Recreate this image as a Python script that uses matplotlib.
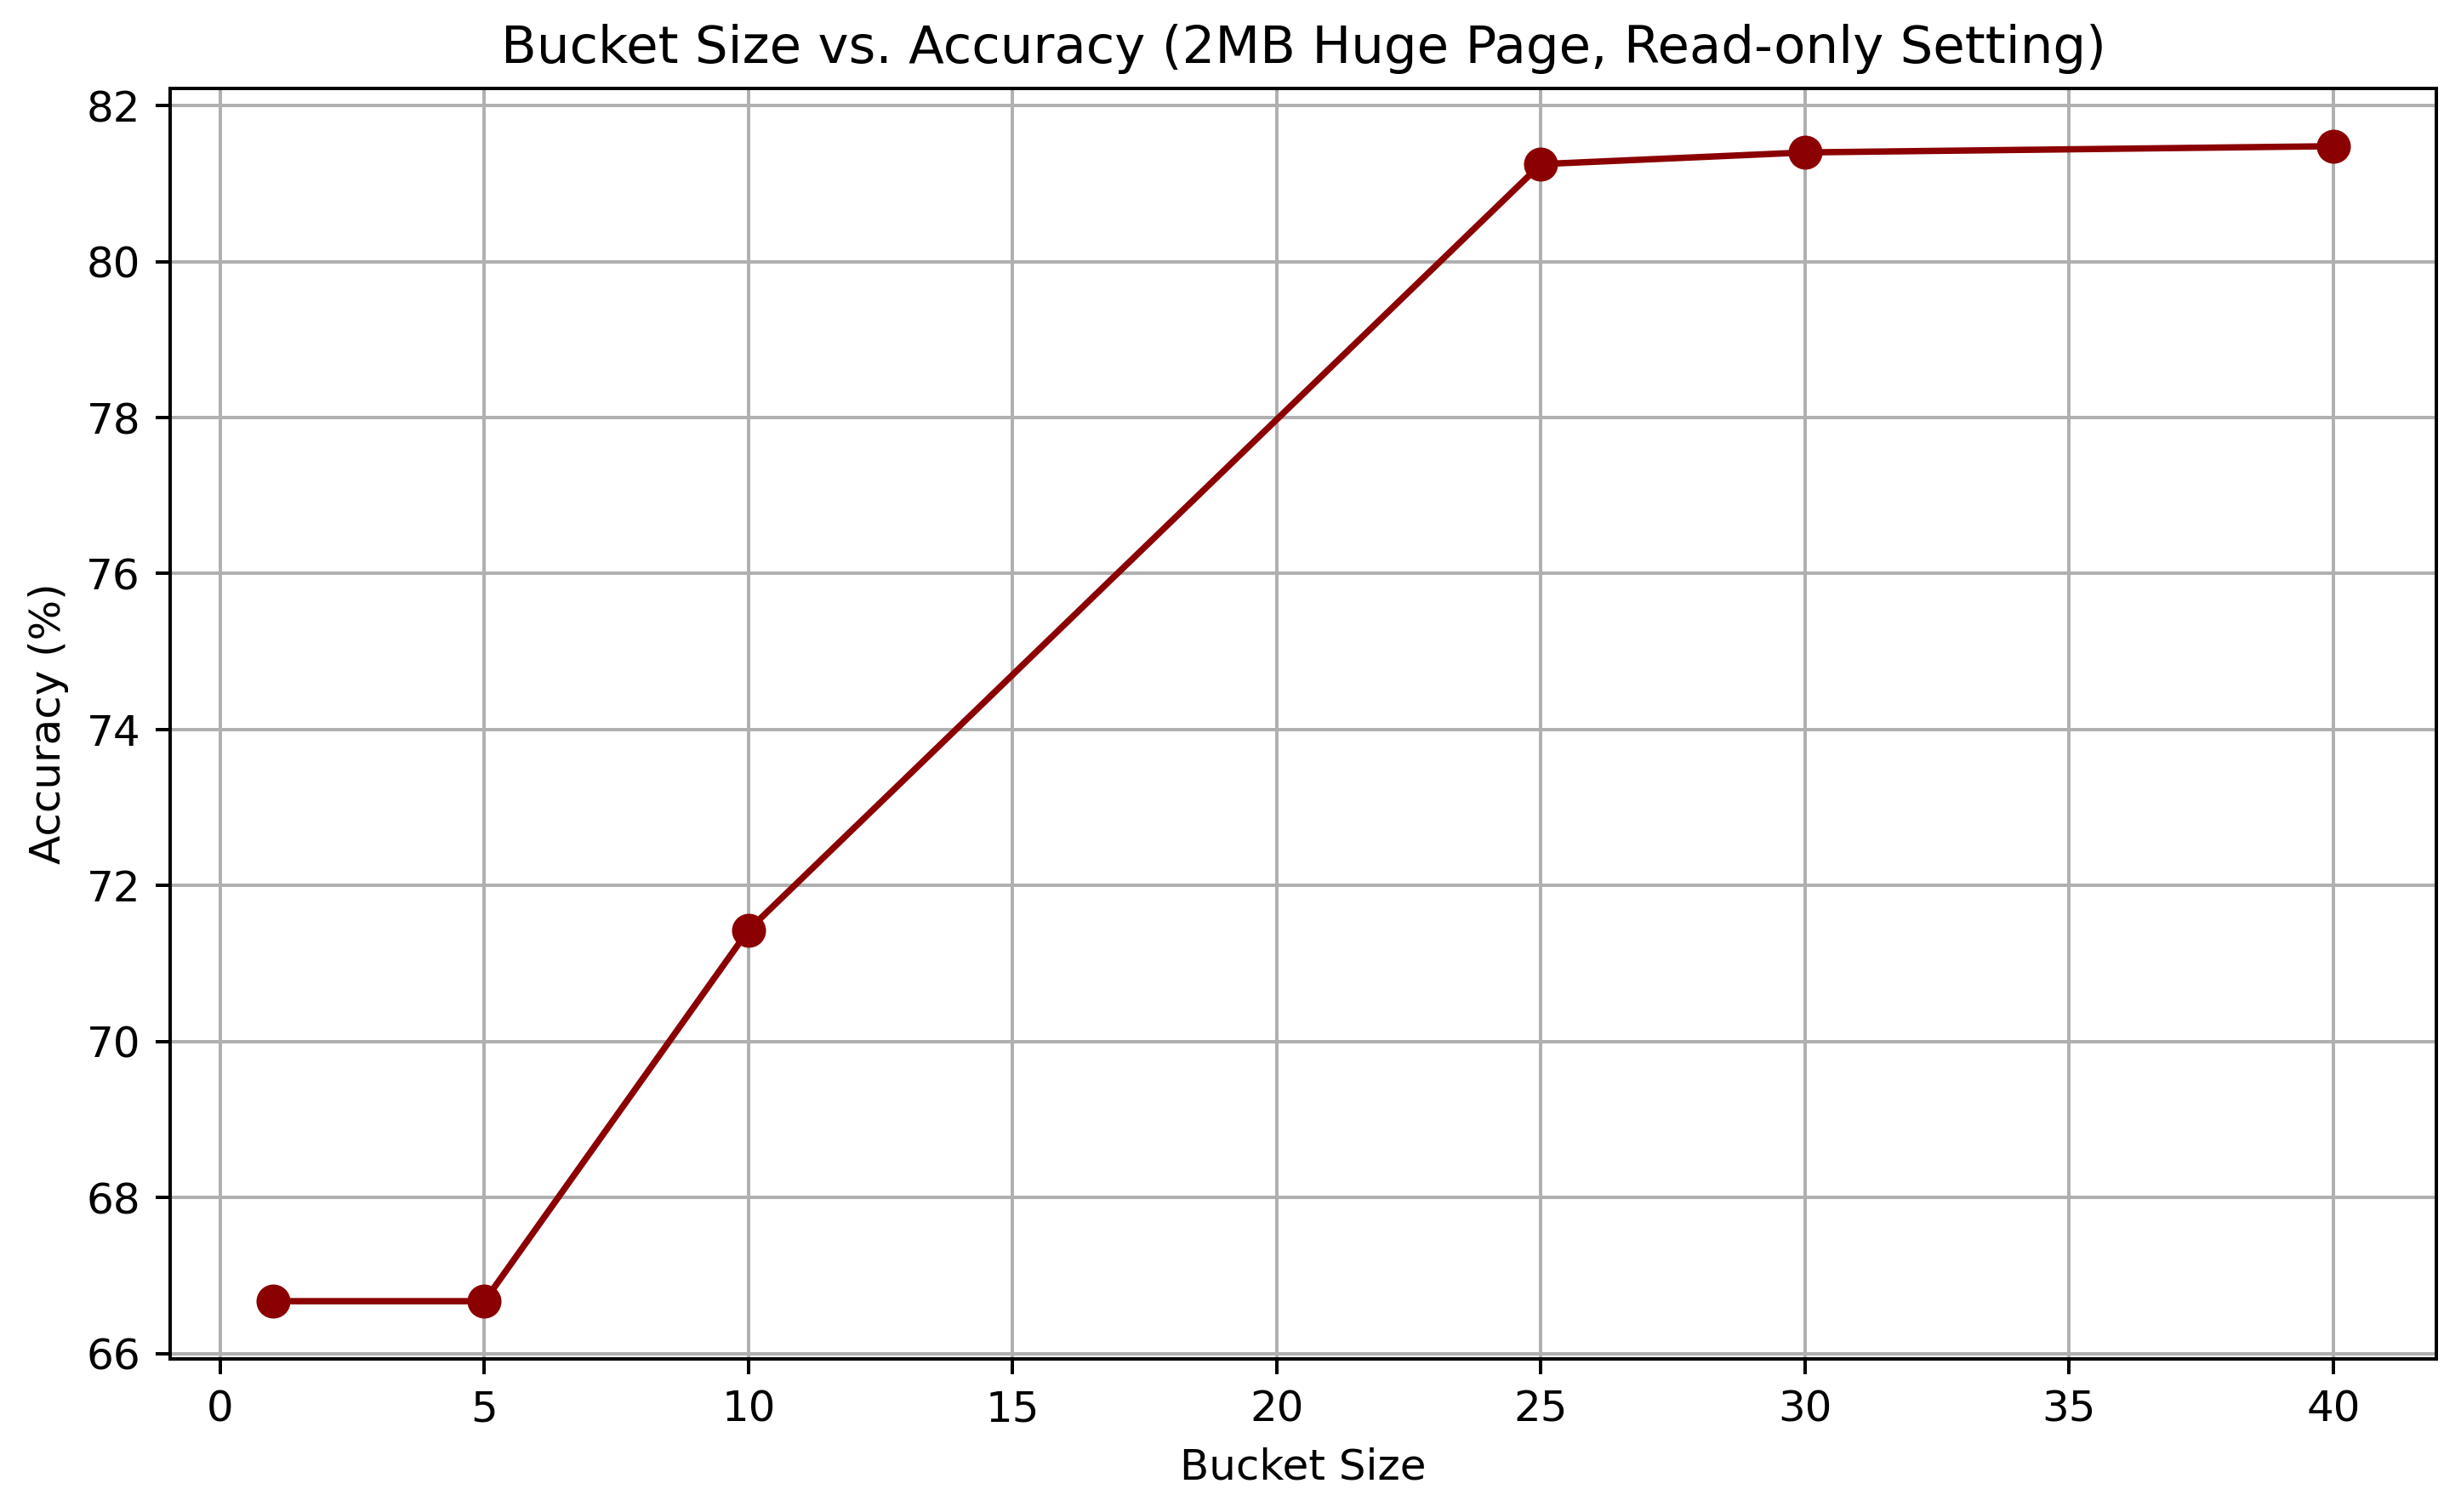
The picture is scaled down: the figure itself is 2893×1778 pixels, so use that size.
import numpy as np
import matplotlib
matplotlib.use("Agg")
import matplotlib.pyplot as plt

# bucket size vs accuracy values
bucket_sizes = [1, 5, 10, 25, 30, 40]
accuracy = [66.67, 66.67, 71.43, 81.25, 81.40, 81.48]

DPI = 360
fig = plt.figure(figsize=(2893 / DPI, 1778 / DPI), dpi=DPI)
ax = fig.add_axes([200 / 2893, 1 - 1598 / 1778, (2864 - 200) / 2893, (1598 - 104) / 1778])

ax.plot(bucket_sizes, accuracy, marker='o', color='darkred', linewidth=1.5, markersize=7)

ax.set_title('Bucket Size vs. Accuracy (2MB Huge Page, Read-only Setting)', fontsize=12.2)
ax.set_xlabel('Bucket Size')
ax.set_ylabel('Accuracy (%)')
ax.grid(True)

fig.savefig('out.png', dpi=DPI)
